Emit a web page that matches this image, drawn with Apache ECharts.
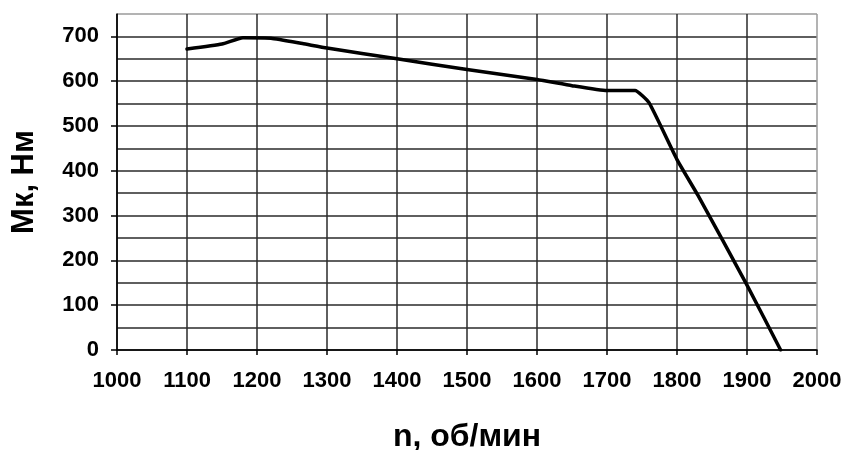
<!DOCTYPE html>
<html>
<head>
<meta charset="utf-8">
<script src="https://cdn.jsdelivr.net/npm/echarts@6/dist/echarts.min.js"></script>
<style>
  html, body { margin: 0; padding: 0; background: #fff; }
  #chart { width: 845px; height: 450px; }
</style>
</head>
<body>
<div id="chart"></div>
<script>
// Engine torque curve: speed (rpm) vs torque (N·m)
const speedRpm = [1100, 1150, 1180, 1220, 1265, 1300, 1400, 1500, 1600, 1650, 1700, 1740, 1760, 1800, 1830, 1900, 1948];
const torqueNm = [672, 683, 697, 696, 684, 674, 650, 626, 604, 590, 579, 579, 552, 425, 345, 145, 0];

const xTicks = [1000, 1100, 1200, 1300, 1400, 1500, 1600, 1700, 1800, 1900, 2000];
const yTicks = [0, 100, 200, 300, 400, 500, 600, 700];

const xTitle = 'n, об/мин';
const yTitle = 'Мк, Нм';

const FONT = '"Liberation Sans", Arial, sans-serif';
const GRID_DARK = '#2a2a2a';
const GRID_EDGE = '#9a9a9a';
const Y_MAX = 750;
const Y_STEP = 50;

// gridline colours: all dark except the outermost (top / right) frame line
const xLineColors = xTicks.map((v, i) => i === xTicks.length - 1 ? GRID_EDGE : GRID_DARK);
const yLineColors = [];
for (let v = 0; v <= Y_MAX; v += Y_STEP) yLineColors.push(v === Y_MAX ? GRID_EDGE : GRID_DARK);

const labelStyle = { fontFamily: FONT, fontWeight: 'bold', fontSize: 22, color: '#000' };
const titleStyle = { fontFamily: FONT, fontWeight: 'bold', color: '#000' };

const chart = echarts.init(document.getElementById('chart'), null, { renderer: 'canvas' });

chart.setOption({
  animation: false,
  backgroundColor: '#fff',
  grid: { left: 117, right: 28, top: 14, bottom: 100, outerBoundsMode: 'none', containLabel: false },
  xAxis: {
    type: 'value',
    min: 1000, max: 2000, interval: 100,
    name: xTitle,
    nameLocation: 'middle',
    nameGap: 71,
    nameTextStyle: Object.assign({ fontSize: 32 }, titleStyle),
    axisLine: { show: true, onZero: false, lineStyle: { color: '#000', width: 1.5 } },
    axisTick: { show: true, length: 5, lineStyle: { color: '#000', width: 1.5 } },
    axisLabel: Object.assign({ margin: 20, formatter: v => String(v) }, labelStyle),
    splitLine: { show: true, lineStyle: { color: xLineColors, width: 1.5 } }
  },
  yAxis: [
    {
      // fine horizontal grid every 50 N·m
      type: 'value',
      min: 0, max: Y_MAX, interval: Y_STEP,
      position: 'left',
      axisLine: { show: true, onZero: false, lineStyle: { color: '#000', width: 1.5 } },
      axisTick: { show: false },
      axisLabel: { show: false },
      splitLine: { show: true, lineStyle: { color: yLineColors, width: 1.5 } }
    },
    {
      // labelled scale every 100 N·m
      type: 'value',
      min: 0, max: Y_MAX,
      position: 'left',
      name: yTitle,
      nameLocation: 'middle',
      nameGap: 77,
      nameTextStyle: Object.assign({ fontSize: 31 }, titleStyle),
      axisLine: { show: false },
      axisTick: { show: true, length: 6, lineStyle: { color: '#000', width: 1.5 }, customValues: yTicks },
      axisLabel: Object.assign({ customValues: yTicks, margin: 18 }, labelStyle),
      splitLine: { show: false }
    }
  ],
  series: [{
    type: 'line',
    yAxisIndex: 0,
    data: speedRpm.map((x, i) => [x, torqueNm[i]]),
    showSymbol: false,
    smooth: 0.15,
    lineStyle: { color: '#000', width: 3.5, cap: 'round', join: 'round' }
  }]
});
</script>
</body>
</html>
